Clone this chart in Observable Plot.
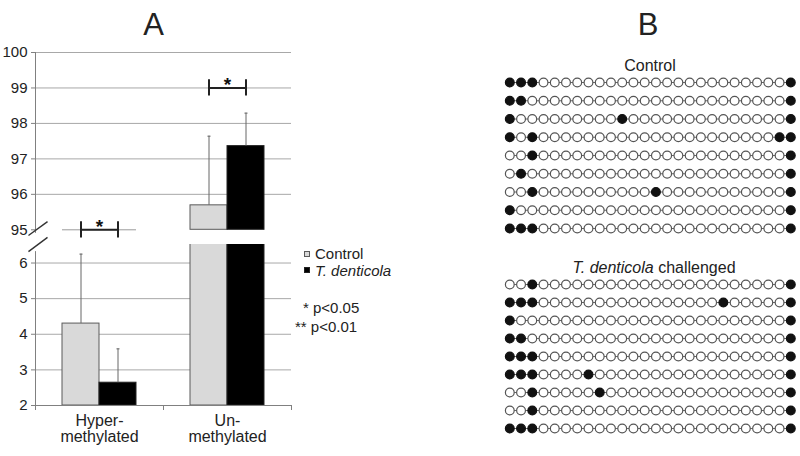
<!DOCTYPE html>
<html><head><meta charset="utf-8">
<script src="https://cdn.jsdelivr.net/npm/d3@7"></script>
<script src="https://cdn.jsdelivr.net/npm/@observablehq/plot@0.6"></script>
<style>
body{margin:0;background:#fff;}
#wrap{position:relative;width:800px;height:456px;overflow:hidden;font-family:Arial,"Liberation Sans",sans-serif;color:#222;}
#wrap svg{position:absolute;left:0;top:0;}
.t{position:absolute;white-space:nowrap;line-height:1;font-size:15px;}
.c{transform:translateX(-50%);}
.sq{position:absolute;width:6px;height:6px;box-sizing:border-box;}
</style></head><body><div id="wrap"></div>
<script>
// ---------- data ----------
const groups = ["Hyper-\nmethylated", "Un-\nmethylated"];
const series = ["Control", "T. denticola"];
const controlMean = [4.30, 95.69];
const controlErr = [1.95, 1.95];
const denticolaMean = [2.64, 97.36];
const denticolaErr = [0.95, 0.93];
const significance = ["*", "*"];
const yTicksUpper = [95, 96, 97, 98, 99, 100];
const yTicksLower = [2, 3, 4, 5, 6];
const pLegend = ["* p<0.05", "** p<0.01"];
const cpgSiteCount = 26;
// indices of methylated (filled) CpG sites per clone
const controlClones = [
  [0, 1, 2, 25], [0, 1, 25], [0, 10, 25], [0, 2, 24, 25], [2, 25],
  [1, 25], [2, 13, 25], [0, 25], [0, 1, 2, 25]
];
const denticolaClones = [
  [2, 25], [0, 1, 2, 19, 25], [0, 25], [0, 1, 25], [0, 1, 2, 25],
  [0, 1, 2, 7, 25], [2, 8, 25], [2, 25], [0, 1, 2, 25]
];

// ---------- layout ----------
const W = 800, H = 456;
const FONT = 'Arial, "Liberation Sans", sans-serif';
const upperDomain = [95, 100];
const lowerDomain = [2, 6.52];
const barW = 37 / 128;              // bar width in group units
const bracketY = [95, 99];          // bracket heights (upper panel)
const fills = ["#d9d9d9", "#000000"];
const strokes = ["#5a5a5a", "#222222"];
const gridC = "#a8a8a8", axisC = "#808080";

const bars = groups.flatMap((g, gi) => series.map((s, si) => ({
  g, gi, s, si,
  mean: si ? denticolaMean[gi] : controlMean[gi],
  err: si ? denticolaErr[gi] : controlErr[gi],
  x1: gi + 0.5 - barW + si * barW,
  x2: gi + 0.5 + si * barW,
  xc: gi + 0.5 - barW / 2 + si * barW
})));
const brackets = groups.map((g, gi) => ({
  gi, y: bracketY[gi], sig: significance[gi],
  xa: bars.find(b => b.gi === gi && b.si === 0).xc,
  xb: bars.find(b => b.gi === gi && b.si === 1).xc
}));
const bracketEnds = brackets.flatMap(b => [{x: b.xa, y: b.y}, {x: b.xb, y: b.y}]);

const wrap = document.getElementById("wrap");
const base = {width: W, height: H, style: {background: "transparent", fontFamily: FONT, fontSize: "15px", color: "#222"}};
const ax = {marginLeft: 35, marginRight: W - 291, x: {domain: [0, 2], axis: null}};

function errMarks(data) {
  return [
    Plot.ruleX(data, {x: "xc", y1: "mean", y2: d => d.mean + d.err, stroke: "#666", strokeWidth: 1}),
    Plot.link(data, {x1: d => d.xc - 0.012, x2: d => d.xc + 0.012, y1: d => d.mean + d.err, y2: d => d.mean + d.err, stroke: "#666", strokeWidth: 1})
  ];
}

// ---------- Panel A, upper segment ----------
const upper = Plot.plot({
  ...base, ...ax, marginTop: 52, marginBottom: H - 229.3,
  y: {domain: upperDomain, axis: null},
  marks: [
    Plot.ruleY(yTicksUpper.slice(1), {stroke: gridC}),
    Plot.ruleY(bars.filter(b => b.mean < upperDomain[0]), {y: () => upperDomain[0], x1: "x1", x2: "x2", stroke: "#9a9a9a"}),
    Plot.rect(bars.filter(b => b.mean >= upperDomain[0]), {x1: "x1", x2: "x2", y1: () => upperDomain[0], y2: "mean", fill: d => fills[d.si], stroke: d => strokes[d.si], strokeWidth: 1}),
    ...errMarks(bars.filter(b => b.mean >= upperDomain[0])),
    Plot.ruleX([0], {y1: upperDomain[0] - 0.1, y2: upperDomain[1], stroke: axisC}),
    Plot.axisY({ticks: yTicksUpper, tickFormat: "d", tickSize: 4, tickPadding: 4, stroke: axisC, fill: "#222", fontSize: 15, label: null}),
    Plot.link(brackets, {x1: "xa", x2: "xb", y1: "y", y2: "y", stroke: "#222", strokeWidth: 2}),
    Plot.ruleX(bracketEnds, {x: "x", y1: d => d.y - 0.23, y2: d => d.y + 0.23, stroke: "#222", strokeWidth: 2}),
    Plot.text(brackets, {x: d => d.gi + 0.5, y: "y", text: "sig", dy: -3, fontSize: 19, fontWeight: "bold", fill: "#111"}),
    Plot.link([0], {x1: () => -0.055, x2: () => 0.094, y1: () => upperDomain[0] - 0.16, y2: () => upperDomain[0] + 0.23, stroke: "#333", strokeWidth: 1.4})
  ]
});

// ---------- Panel A, lower segment ----------
const lower = Plot.plot({
  ...base, ...ax, marginTop: 244, marginBottom: H - 405,
  y: {domain: lowerDomain, axis: null},
  marks: [
    Plot.ruleY(yTicksLower.slice(1), {stroke: gridC}),
    Plot.rect(bars, {x1: "x1", x2: "x2", y1: () => lowerDomain[0], y2: "mean", fill: d => fills[d.si], stroke: d => strokes[d.si], strokeWidth: 1, clip: true}),
    ...errMarks(bars.filter(b => b.mean + b.err <= lowerDomain[1])),
    Plot.ruleY([lowerDomain[0]], {stroke: axisC}),
    Plot.ruleX([0], {y1: lowerDomain[0], y2: lowerDomain[1] - 0.2, stroke: axisC}),
    Plot.axisY({ticks: yTicksLower, tickFormat: "d", tickSize: 4, tickPadding: 4, stroke: axisC, fill: "#222", fontSize: 15, label: null}),
    Plot.axisX({ticks: [0, 1, 2], tickFormat: () => "", tickSize: 5, stroke: axisC, label: null}),
    Plot.text(groups, {x: (d, i) => i + 0.5, frameAnchor: "bottom", lineAnchor: "top", dy: 9, fontSize: 16, lineHeight: 1.0, fill: "#222"}),
    Plot.link([0], {x1: () => -0.055, x2: () => 0.094, y1: () => lowerDomain[1] - 0.2, y2: () => lowerDomain[1] + 0.2, stroke: "#333", strokeWidth: 1.4})
  ]
});

// ---------- Panel B ----------
function lollipop(clones, top, bottom) {
  const sites = clones.flatMap((filled, row) => d3.range(cpgSiteCount).map(site => ({row, site, m: filled.includes(site)})));
  return Plot.plot({
    ...base, marginLeft: 509.3, marginRight: W - 790.3, marginTop: top, marginBottom: H - bottom,
    x: {domain: [0, cpgSiteCount - 1], axis: null},
    y: {domain: [0, clones.length - 1], reverse: true, axis: null},
    marks: [
      Plot.ruleY(d3.range(clones.length), {x1: 0, x2: cpgSiteCount - 1, stroke: "#666", strokeWidth: 1}),
      Plot.dot(sites, {x: "site", y: "row", r: 4.4, fill: d => d.m ? "#111" : "#fff", stroke: d => d.m ? "#111" : "#555", strokeWidth: 1.2})
    ]
  });
}
const bControl = lollipop(controlClones, 82, 228);
const bDenticola = lollipop(denticolaClones, 284, 428);

wrap.append(upper, lower, bControl, bDenticola);

// ---------- titles & legend ----------
function txt(html, left, baseline, size, cls) {
  const d = document.createElement("div");
  d.className = "t " + (cls || "");
  d.style.fontSize = size + "px";
  d.style.left = left + "px";
  d.style.top = (baseline - size * 0.8465) + "px";
  d.innerHTML = html;
  wrap.append(d);
}
txt("A", 153.7, 35, 31, "c");
txt("B", 648, 35, 31, "c");
txt(series[0], 650, 72, 16, "c");
txt("<i>" + series[1] + "</i> challenged", 654, 274, 16, "c");
// legend
[[304, 251], [304, 267]].forEach(([l, t], i) => {
  const s = document.createElement("div");
  s.className = "sq";
  s.style.left = l + "px"; s.style.top = t + "px";
  s.style.background = fills[i];
  s.style.border = "1px solid " + strokes[i];
  wrap.append(s);
});
txt(series[0], 315, 259, 15);
txt("<i>" + series[1] + "</i>", 315, 276, 15);
txt(pLegend[0], 303, 313, 15);
txt(pLegend[1], 295, 332, 15);
</script></body></html>
